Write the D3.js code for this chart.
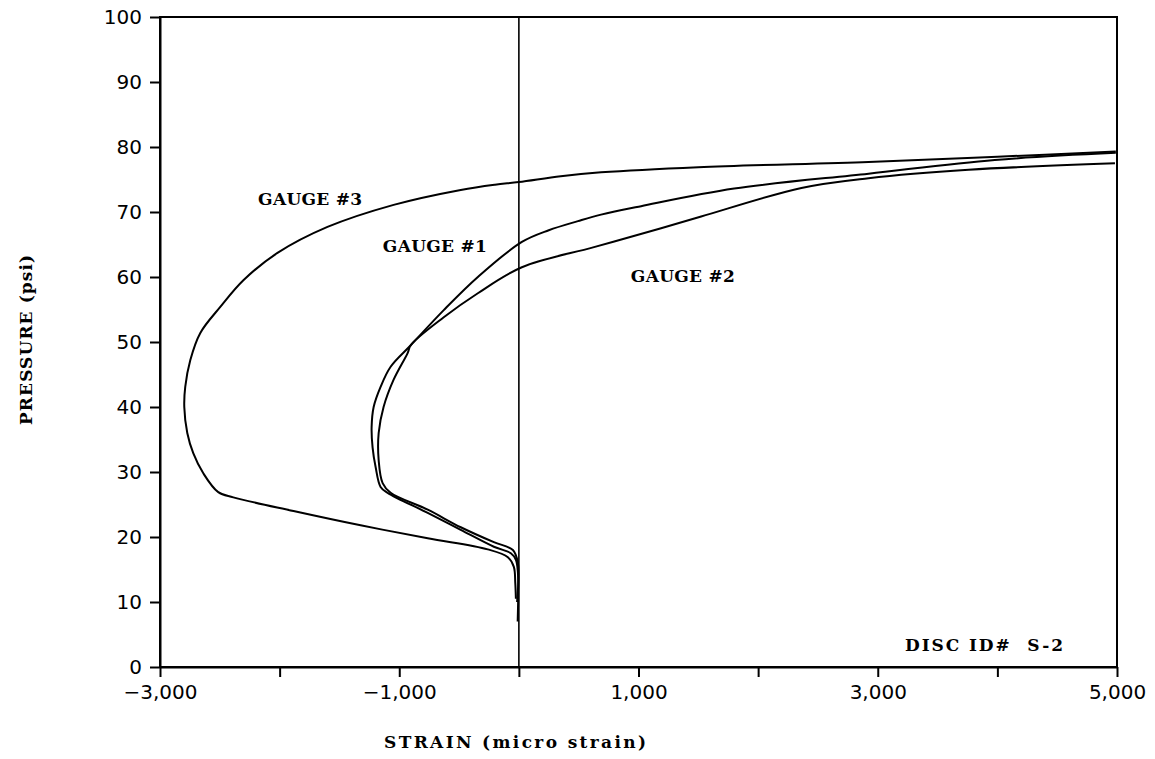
<!DOCTYPE html>
<html><head><meta charset="utf-8">
<script src="https://cdn.jsdelivr.net/npm/d3@7"></script>
<style>
body{margin:0;background:#fff;}
svg{display:block;}
</style></head>
<body>
<script>
// ---- data ----
const xTicks = [-3000,-2000,-1000,0,1000,2000,3000,4000,5000];
const xTickLabels = ["−3,000","","−1,000","","1,000","","3,000","","5,000"];
const yTicks = [0,10,20,30,40,50,60,70,80,90,100];

const gauge3Strain   = [-25,-30,-42,-92,-260,-762,-1323,-1884,-2387,-2513,-2638,-2722,-2772,-2797,-2789,-2747,-2663,-2496,-2303,-2018,-1600,-1047,-486,-200,0,350,687,1500,2923,4000,4990];
const gauge3Pressure = [10.5,12.9,15.4,16.9,18.1,19.8,21.8,24.0,26.1,26.9,29.8,32.9,36,40,43.1,47.2,51.4,55.4,59.5,63.7,67.7,71.1,73.4,74.2,74.6,75.5,76.1,76.9,77.7,78.5,79.3];

const gauge1Strain   = [-10,-8,-25,-67,-209,-486,-762,-1097,-1156,-1198,-1223,-1231,-1214,-1156,-1072,-904,-628,-343,25,250,494,687,1022,1800,2923,3978,4990];
const gauge1Pressure = [7,14.5,16.5,17.5,18.5,21.1,23.7,26.8,27.7,30.8,33.8,36.9,40,43.1,46.2,49.5,54.9,60,65.4,67.2,68.6,69.6,70.9,73.6,75.9,78,79.1];

const gauge2Strain   = [-15,-8,-50,-209,-486,-762,-1072,-1139,-1172,-1172,-1131,-1047,-930,-904,-628,-343,25,628,1189,1524,2362,2923,3760,4983];
const gauge2Pressure = [10,16,18,19.2,21.5,24.2,26.8,28.3,31.8,36,40,44.2,48.3,49.5,53.8,57.5,61.5,64.6,67.5,69.3,73.7,75.2,76.5,77.5];

const labels = [
  {text:"GAUGE #3", x:-2180, y:71.1},
  {text:"GAUGE #1", x:-1137, y:63.8},
  {text:"GAUGE #2", x:936,   y:59.2}
];

// ---- chart ----
const W=1155,H=759;
const svg=d3.select("body").append("svg").attr("width",W).attr("height",H);
const x=d3.scaleLinear().domain([-3000,5000]).range([160,1117]);
const y=d3.scaleLinear().domain([0,100]).range([667,17]);

const sansFont="'DejaVu Sans', sans-serif";
const serifFont="'DejaVu Serif', serif";

// frame
svg.append("rect").attr("x",x(-3000)).attr("y",y(100))
  .attr("width",x(5000)-x(-3000)).attr("height",y(0)-y(100))
  .attr("fill","none").attr("stroke","#000").attr("stroke-width",2);

// zero line
svg.append("line").attr("x1",x(0)).attr("x2",x(0)).attr("y1",y(100)).attr("y2",y(0))
  .attr("stroke","#000").attr("stroke-width",1.6);

// axes
const gx=svg.append("g").attr("transform",`translate(0,${y(0)})`)
  .call(d3.axisBottom(x).tickValues(xTicks).tickSize(10).tickSizeOuter(0).tickPadding(8)
    .tickFormat((d,i)=>xTickLabels[i]));
const gy=svg.append("g").attr("transform",`translate(${x(-3000)},0)`)
  .call(d3.axisLeft(y).tickValues(yTicks).tickSize(10).tickSizeOuter(0).tickPadding(8));
[gx,gy].forEach(g=>{
  g.select(".domain").attr("stroke-width",2);
  g.selectAll(".tick line").attr("stroke-width",2);
  g.selectAll(".tick text").attr("font-family",sansFont).attr("font-size",20).attr("fill","#000");
});

// curves
const line=d3.line().x(d=>x(d[0])).y(d=>y(d[1])).curve(d3.curveCatmullRom.alpha(0.5));
[[gauge3Strain,gauge3Pressure],[gauge1Strain,gauge1Pressure],[gauge2Strain,gauge2Pressure]].forEach(([s,p])=>{
  svg.append("path").attr("d",line(s.map((v,i)=>[v,p[i]])))
    .attr("fill","none").attr("stroke","#000").attr("stroke-width",2).attr("stroke-linejoin","round");
});

// gauge labels
svg.selectAll("text.glabel").data(labels).enter().append("text").attr("class","glabel")
  .attr("x",d=>x(d.x)).attr("y",d=>y(d.y))
  .attr("font-family",serifFont).attr("font-weight","bold").attr("font-size",17)
  .attr("textLength",104).attr("lengthAdjust","spacing")
  .text(d=>d.text);

// disc id
svg.append("text").attr("x",905).attr("y",651)
  .attr("font-family",serifFont).attr("font-weight","bold").attr("font-size",17)
  .attr("xml:space","preserve").attr("textLength",158).attr("lengthAdjust","spacing")
  .text("DISC ID#  S-2");

// axis titles
svg.append("text").attr("x",515).attr("y",748).attr("text-anchor","middle")
  .attr("font-family",serifFont).attr("font-weight","bold").attr("font-size",17)
  .attr("textLength",262).attr("lengthAdjust","spacing")
  .text("STRAIN (micro strain)");
svg.append("text").attr("transform","translate(32,340) rotate(-90)").attr("text-anchor","middle")
  .attr("font-family",serifFont).attr("font-weight","bold").attr("font-size",17)
  .attr("textLength",170).attr("lengthAdjust","spacing")
  .text("PRESSURE (psi)");
</script>
</body></html>
